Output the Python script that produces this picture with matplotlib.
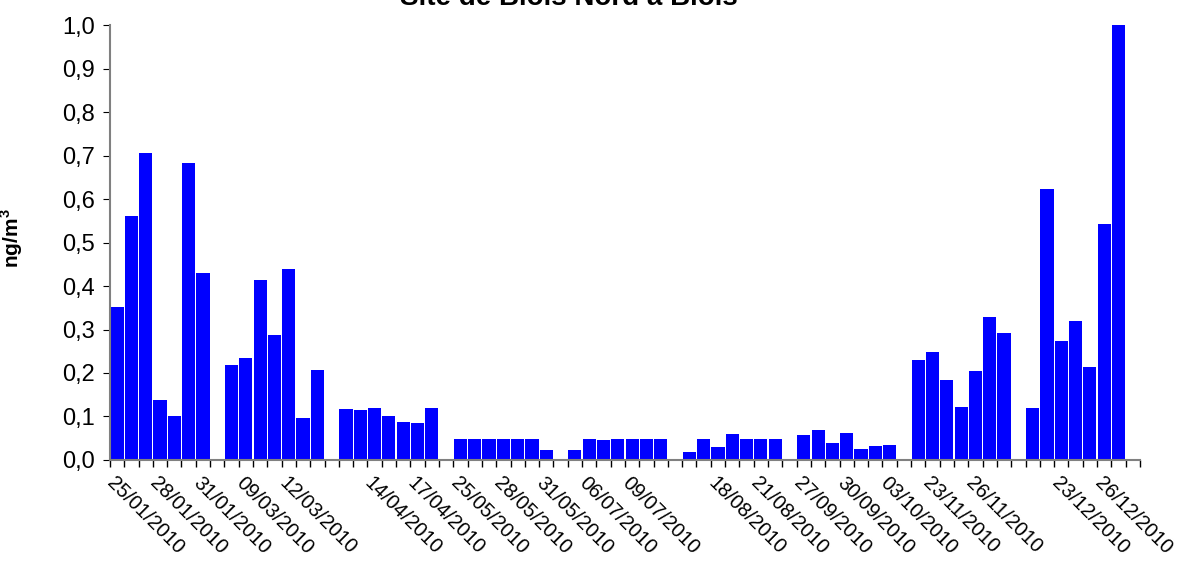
import matplotlib.pyplot as plt
from matplotlib.ticker import FuncFormatter, MultipleLocator
import numpy as np

plt.rcParams['font.family'] = ['Liberation Sans', 'DejaVu Sans']
plt.rcParams['mathtext.fontset'] = 'custom'
plt.rcParams['mathtext.bf'] = 'Liberation Sans:bold'

# each campaign = 7 consecutive days, followed by one empty category
g1 = [0.351, 0.561, 0.705, 0.139, 0.100, 0.682, 0.429]
g2 = [0.218, 0.234, 0.414, 0.287, 0.439, 0.096, 0.207]
g3 = [0.118, 0.115, 0.120, 0.100, 0.087, 0.085, 0.119]
g4 = [0.049, 0.049, 0.049, 0.049, 0.049, 0.049, 0.023]
g5 = [0.024, 0.049, 0.046, 0.049, 0.049, 0.049, 0.049]
g6 = [0.019, 0.049, 0.029, 0.059, 0.049, 0.049, 0.049]
g7 = [0.057, 0.070, 0.040, 0.061, 0.025, 0.032, 0.034]
g8 = [0.230, 0.249, 0.184, 0.121, 0.205, 0.328, 0.293]
g9 = [0.119, 0.622, 0.273, 0.319, 0.213, 0.542, 1.000]
groups = [g1, g2, g3, g4, g5, g6, g7, g8, g9]

# label shown every third category
tick_labels = ['25/01/2010', '28/01/2010', '31/01/2010', '09/03/2010', '12/03/2010', '',
               '14/04/2010', '17/04/2010', '25/05/2010', '28/05/2010', '31/05/2010',
               '06/07/2010', '09/07/2010', '', '18/08/2010', '21/08/2010',
               '27/09/2010', '30/09/2010', '03/10/2010', '23/11/2010', '26/11/2010', '',
               '23/12/2010', '26/12/2010']

values = []
for g in groups:
    values += g + [np.nan]
x = np.arange(len(values))

fig = plt.figure(figsize=(11.86, 5.62), dpi=100)
ax = fig.add_axes([0.0927, 0.1815, 0.8685, 0.774])

ax.bar(x, values, width=0.92, color='#0000ff', edgecolor='none')

ax.set_xlim(-0.5, len(values) - 0.5)
ax.set_ylim(0, 1.0)
ax.yaxis.set_major_locator(MultipleLocator(0.1))
ax.yaxis.set_major_formatter(FuncFormatter(lambda v, p: f'{v:.1f}'.replace('.', ',')))

ax.set_xticks(x[::3])
ax.set_xticklabels(tick_labels, rotation=-45, ha='left', va='top',
                   rotation_mode='anchor', fontsize=14.5)
ax.set_xticks(np.arange(-0.5, len(values), 1), minor=True)
ax.tick_params(axis='x', which='major', length=0, pad=10)
ax.tick_params(axis='x', which='minor', length=5, color='black', width=1)
ax.tick_params(axis='y', length=5, labelsize=17, pad=6, color='black')

for s in ['top', 'right']:
    ax.spines[s].set_visible(False)
for s in ['left', 'bottom']:
    ax.spines[s].set_color('#808080')
    ax.spines[s].set_linewidth(1.5)

ax.set_ylabel(r'ng/m$^{\mathbf{3}}$', fontsize=15, fontweight='bold')
ax.yaxis.set_label_coords(-0.082, 0.51)

fig.text(0.48, 1 - 5 / 562, 'Site de Biois Nord à Biois', ha='center',
         va='baseline', fontsize=20, fontweight='bold')

fig.savefig('out.png', dpi=100)
